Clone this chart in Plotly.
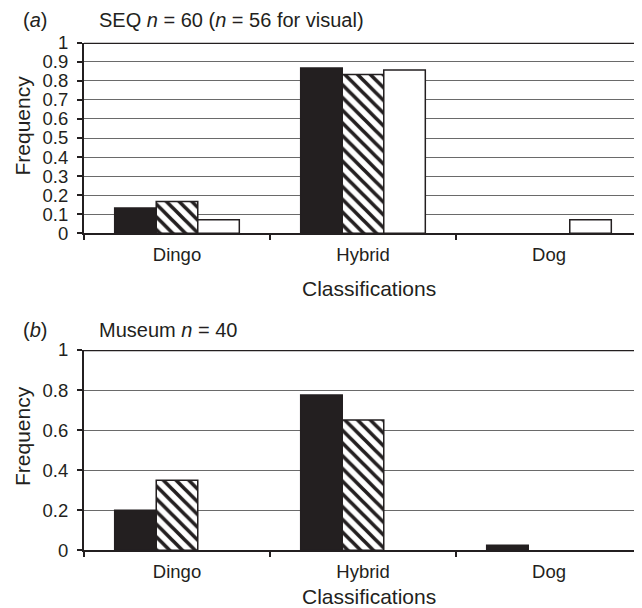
import plotly.graph_objects as go

categories = ["Dingo", "Hybrid", "Dog"]
seq_series1 = [0.133, 0.867, 0.0]
seq_series2 = [0.167, 0.833, 0.0]
seq_series3 = [0.071, 0.857, 0.071]
museum_series1 = [0.2, 0.775, 0.025]
museum_series2 = [0.35, 0.65, 0.0]
museum_series3 = [0.0, 0.0, 0.0]

OFF = 8                      # page body margin
W, H = 642 - OFF, 608 - OFF
ML = 84 - OFF
PW = W - ML
FONT = "Liberation Sans, Arial, sans-serif"
TXT = "#231f20"


def px_x(x):
    return (x - 84) / PW


def px_y(y):
    return 1 - (y - OFF) / H


def outline(vals):
    return [1.5 if v > 0 else 0 for v in vals]


fig = go.Figure()


def style(k, vals):
    lw = outline(vals)
    if k == 0:
        return dict(color="#231f20", line=dict(color="#231f20", width=lw))
    if k == 1:
        return dict(color="white", line=dict(color="#231f20", width=lw),
                    pattern=dict(shape="\\", size=9, solidity=0.4,
                                 fgcolor="#231f20", bgcolor="white"))
    return dict(color="white", line=dict(color="#231f20", width=lw))


for k, vals in enumerate([seq_series1, seq_series2, seq_series3]):
    fig.add_trace(go.Bar(x=categories, y=vals, xaxis="x", yaxis="y", showlegend=False,
                         marker=style(k, vals)))
for k, vals in enumerate([museum_series1, museum_series2, museum_series3]):
    fig.add_trace(go.Bar(x=categories, y=vals, xaxis="x2", yaxis="y2", showlegend=False,
                         marker=style(k, vals)))

top_dom = [px_y(233.3), px_y(42.7)]
bot_dom = [px_y(550.3), px_y(350)]

TICKF = dict(size=18.5, color=TXT, family=FONT)
xcommon = dict(showline=True, linecolor=TXT, linewidth=1.5, ticks="outside",
               tickson="boundaries", ticklen=5, tickcolor=TXT, tickwidth=1.5,
               showgrid=False, tickfont=TICKF, ticklabelstandoff=4,
               domain=[0, 1], automargin=False, layer="above traces")
ycommon = dict(range=[0, 1], showline=True, linecolor=TXT, linewidth=2,
               ticks="outside", ticklen=5, tickcolor=TXT, tickwidth=1.5,
               showgrid=True, gridcolor="#6a6a6a", gridwidth=1, zeroline=False,
               automargin=False, ticklabelstandoff=5, tickfont=TICKF)

fig.update_layout(
    template="none",
    width=W, height=H,
    margin=dict(l=ML, r=0, t=0, b=0, autoexpand=False),
    paper_bgcolor="white", plot_bgcolor="white",
    barmode="group", bargap=0.33, bargroupgap=0,
    font=dict(family=FONT, color=TXT),
    xaxis=dict(anchor="y", **xcommon),
    xaxis2=dict(anchor="y2", **xcommon),
    yaxis=dict(domain=top_dom, dtick=0.1, anchor="x", **ycommon),
    yaxis2=dict(domain=bot_dom, dtick=0.2, anchor="x2", **ycommon),
)

for yr in ["y", "y2"]:
    fig.add_shape(type="line", xref="x domain" if yr == "y" else "x2 domain", yref=yr,
                  x0=0, x1=1, y0=1, y1=1, line=dict(color=TXT, width=2.5))

ann = []
ann.append(dict(text="(<i>a</i>)", x=px_x(21), y=px_y(20)))
ann.append(dict(text="SEQ <i>n</i> = 60 (<i>n</i> = 56 for visual)", x=px_x(97), y=px_y(20)))
ann.append(dict(text="(<i>b</i>)", x=px_x(21), y=px_y(330)))
ann.append(dict(text="Museum <i>n</i> = 40", x=px_x(97), y=px_y(330)))
for a in ann:
    fig.add_annotation(xref="paper", yref="paper", xanchor="left", yanchor="middle",
                       showarrow=False, font=dict(size=20, color=TXT, family=FONT), **a)

for yc in [125.5, 436]:
    fig.add_annotation(text="Frequency", xref="paper", yref="paper", x=px_x(22), y=px_y(yc),
                       xanchor="center", yanchor="middle", textangle=-90, showarrow=False,
                       font=dict(size=21, color=TXT, family=FONT))
for yc in [289, 596.5]:
    fig.add_annotation(text="Classifications", xref="paper", yref="paper", x=px_x(369), y=px_y(yc),
                       xanchor="center", yanchor="middle", showarrow=False,
                       font=dict(size=21, color=TXT, family=FONT))

fig.write_html("out.html")
